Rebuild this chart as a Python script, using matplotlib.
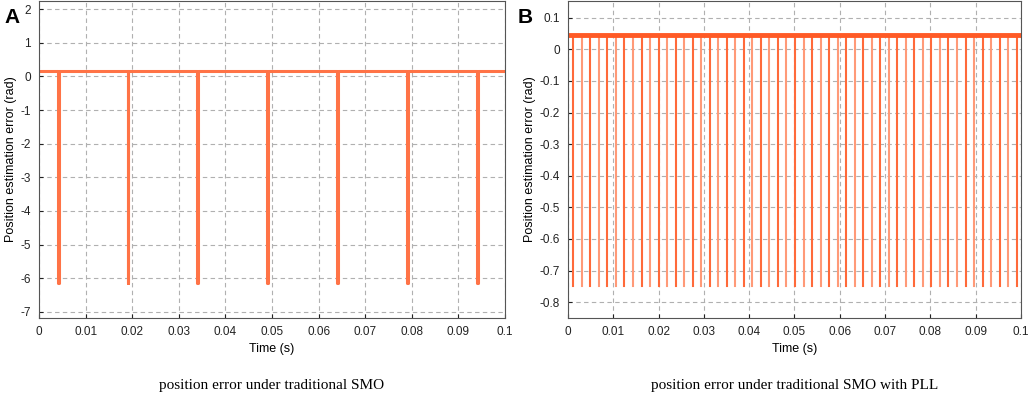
import numpy as np
import matplotlib
matplotlib.use("Agg")
import matplotlib.pyplot as plt

## Data read off the reference
# Panel A: traditional SMO, a flat error with periodic jumps of ~ -2*pi
smo_level = 0.15
smo_dip = -6.13
smo_spikes = [0.0040, 0.0190, 0.0340, 0.0490, 0.0640, 0.0790, 0.0940]

# Panel B: SMO with PLL, small offset with short dips
pll_level = 0.045
pll_dip = -0.75
pll_spikes = [0.00118, 0.00306, 0.00494, 0.00683, 0.00871, 0.01059, 0.01247,
              0.01435, 0.01624, 0.01812, 0.02000, 0.02188, 0.02376, 0.02565,
              0.02753, 0.02941, 0.03129, 0.03317, 0.03506, 0.03694, 0.03882,
              0.04070, 0.04258, 0.04447, 0.04635, 0.04823, 0.05011, 0.05199,
              0.05388, 0.05576, 0.05764, 0.05952, 0.06140, 0.06329, 0.06517,
              0.06705, 0.06893, 0.07081, 0.07270, 0.07458, 0.07646, 0.07834,
              0.08022, 0.08211, 0.08399, 0.08587, 0.08775, 0.08963, 0.09152,
              0.09340, 0.09528, 0.09716, 0.09904]

x_ticks = [0, 0.01, 0.02, 0.03, 0.04, 0.05, 0.06, 0.07, 0.08, 0.09, 0.1]
x_labels = ["0", "0.01", "0.02", "0.03", "0.04", "0.05", "0.06", "0.07", "0.08", "0.09", "0.1"]
a_yticks = [2, 1, 0, -1, -2, -3, -4, -5, -6, -7]
b_yticks = [0.1, 0, -0.1, -0.2, -0.3, -0.4, -0.5, -0.6, -0.7, -0.8]
b_ylabels = ["0.1", "0", "-0.1", "-0.2", "-0.3", "-0.4", "-0.5", "-0.6", "-0.7", "-0.8"]

plt.rcParams['font.family'] = ['Liberation Sans', 'DejaVu Sans']


def spike_trace(spikes, level, dip, width):
    # build a step trace: flat level, drop to dip and back at each spike time
    t = [0.0]
    y = [level]
    for s in spikes:
        t += [s, s, s + width, s + width]
        y += [level, dip, dip, level]
    t.append(0.1)
    y.append(level)
    return t, y


def style_axes(ax, yticks, ylabels, ylim):
    ax.set_xlim(0, 0.1)
    ax.set_ylim(*ylim)
    ax.set_xticks(x_ticks)
    ax.set_xticklabels(x_labels)
    ax.set_yticks(yticks)
    ax.set_yticklabels(ylabels)
    ax.grid(True, color='#b0b0b0', linestyle=(0, (4, 3)), linewidth=0.8)
    ax.tick_params(direction='in', length=3, labelsize=8.5, colors='#222222', pad=6)
    for sp in ax.spines.values():
        sp.set_color('#555555')
        sp.set_linewidth(0.8)
    ax.set_xlabel("Time (s)", fontsize=9, labelpad=3)
    ax.set_ylabel("Position estimation error (rad)", fontsize=9, labelpad=2)


fig = plt.figure(figsize=(10.31, 3.99), dpi=100)

## Panel A
axA = fig.add_axes([0.0378, 0.203, 0.4520, 0.7945])
t, y = spike_trace(smo_spikes, smo_level, smo_dip, 0.0002)
axA.plot(t, y, color='#ff7346', linewidth=2.2)
style_axes(axA, a_yticks, [str(v) for v in a_yticks], (-7.18, 2.24))

## Panel B
axB = fig.add_axes([0.5509, 0.203, 0.4394, 0.7945])
for i, s in enumerate(pll_spikes):
    c = '#ff6a3a' if i % 2 == 0 else '#ff9a78'
    axB.plot([s, s], [pll_level, pll_dip], color=c, linewidth=1.5)
axB.axhline(pll_level, color='#ff5a26', linewidth=3.5)
style_axes(axB, b_yticks, b_ylabels, (-0.85, 0.153))

## Panel letters and captions
fig.text(0.004, 0.955, "A", fontsize=15, fontweight='bold', va='center')
fig.text(0.502, 0.955, "B", fontsize=15, fontweight='bold', va='center')
fig.text(0.263, 0.035, "position error under traditional SMO",
         fontsize=11, family='Liberation Serif', ha='center', va='center')
fig.text(0.771, 0.035, "position error under traditional SMO with PLL",
         fontsize=11, family='Liberation Serif', ha='center', va='center')

plt.savefig("out.png", dpi=100)
